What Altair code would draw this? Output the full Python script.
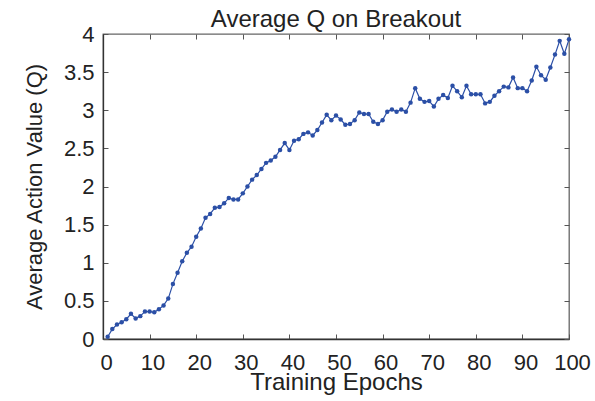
import altair as alt
import pandas as pd

epochs = list(range(1, 101))
avg_q = [
    0.03, 0.13, 0.19, 0.22, 0.26, 0.33, 0.27, 0.30, 0.36, 0.36,
    0.35, 0.39, 0.44, 0.53, 0.72, 0.87, 1.02, 1.13, 1.21, 1.34,
    1.45, 1.59, 1.64, 1.72, 1.73, 1.78, 1.85, 1.83, 1.83, 1.91,
    2.00, 2.09, 2.15, 2.23, 2.31, 2.34, 2.39, 2.48, 2.57, 2.48,
    2.60, 2.62, 2.69, 2.71, 2.67, 2.74, 2.84, 2.94, 2.87, 2.93,
    2.88, 2.81, 2.82, 2.87, 2.97, 2.95, 2.95, 2.85, 2.82, 2.87,
    2.98, 3.01, 2.98, 3.01, 2.98, 3.10, 3.29, 3.15, 3.11, 3.12,
    3.05, 3.15, 3.20, 3.16, 3.32, 3.25, 3.17, 3.32, 3.21, 3.21,
    3.21, 3.09, 3.11, 3.19, 3.25, 3.31, 3.30, 3.43, 3.29, 3.29,
    3.25, 3.39, 3.57, 3.46, 3.40, 3.56, 3.73, 3.91, 3.74, 3.93,
]
x_ticks = list(range(0, 101, 10))
y_ticks = [0, 0.5, 1, 1.5, 2, 2.5, 3, 3.5, 4]
title_text = "Average Q on Breakout"
x_title = "Training Epochs"
y_title = "Average Action Value (Q)"

df = pd.DataFrame({"epoch": epochs, "q": avg_q})
title_df = pd.DataFrame({"t": [title_text]})

FONT = "Liberation Sans"
BLUE = "#2b4fa6"
TXT = "#222222"
LFS = 22
W, H = 466, 305

xs = alt.Scale(domain=[0, 100], nice=False)
ys = alt.Scale(domain=[0, 4], nice=False)

base = alt.Chart(df)

main = base.mark_line(
    color=BLUE, strokeWidth=1.2,
    point=alt.OverlayMarkDef(filled=True, size=20, color=BLUE, opacity=1),
).encode(
    x=alt.X("epoch:Q", scale=xs, axis=alt.Axis(
        orient="bottom", values=x_ticks, title=x_title, tickSize=0, ticks=False,
        labelPadding=13, labelOffset=3, domain=True, domainColor="#333333", domainWidth=1.3,
        grid=False, labelFontSize=LFS, titleFontSize=24, labelFont=FONT, titleFont=FONT,
        labelColor=TXT, titleColor=TXT, titleFontWeight="normal", titlePadding=-3,
        labelFlush=False, labelOverlap=False)),
    y=alt.Y("q:Q", scale=ys, axis=alt.Axis(
        orient="left", values=y_ticks, title=y_title, tickSize=0, ticks=False, format="~g",
        labelPadding=9, domain=True, domainColor="#333333", domainWidth=1.3,
        grid=False, labelFontSize=LFS, titleFontSize=22, labelFont=FONT, titleFont=FONT,
        labelColor=TXT, titleColor=TXT, titleFontWeight="normal", titlePadding=17,
        labelOverlap=False)),
)


def tick_layer(xo, yo):
    return base.mark_point(opacity=0).encode(
        x=alt.X("epoch:Q", scale=xs, axis=alt.Axis(
            orient=xo, values=x_ticks, labels=False, title=None, domain=False,
            grid=False, ticks=True, tickSize=5, offset=-5, tickColor="#555555",
            tickWidth=1)),
        y=alt.Y("q:Q", scale=ys, axis=alt.Axis(
            orient=yo, values=y_ticks, labels=False, title=None, domain=False,
            grid=False, ticks=True, tickSize=5, offset=-5, tickColor="#555555",
            tickWidth=1)),
    )


title_layer = alt.Chart(title_df).mark_text(
    font=FONT, fontSize=24, color=TXT, align="center", baseline="alphabetic"
).encode(text="t:N", x=alt.value(W / 2), y=alt.value(-7))

chart = alt.layer(
    tick_layer("bottom", "left"), tick_layer("top", "right"), main, title_layer
).resolve_axis(
    x="independent", y="independent"
).properties(
    width=W, height=H,
    autosize=alt.AutoSizeParams(type="none"),
    padding={"left": 103, "top": 34, "right": 26, "bottom": 62},
    background="white",
).configure_view(stroke="#666666", strokeWidth=1.3)

chart.save("out.html", embed_options={"renderer": "svg", "actions": False})
